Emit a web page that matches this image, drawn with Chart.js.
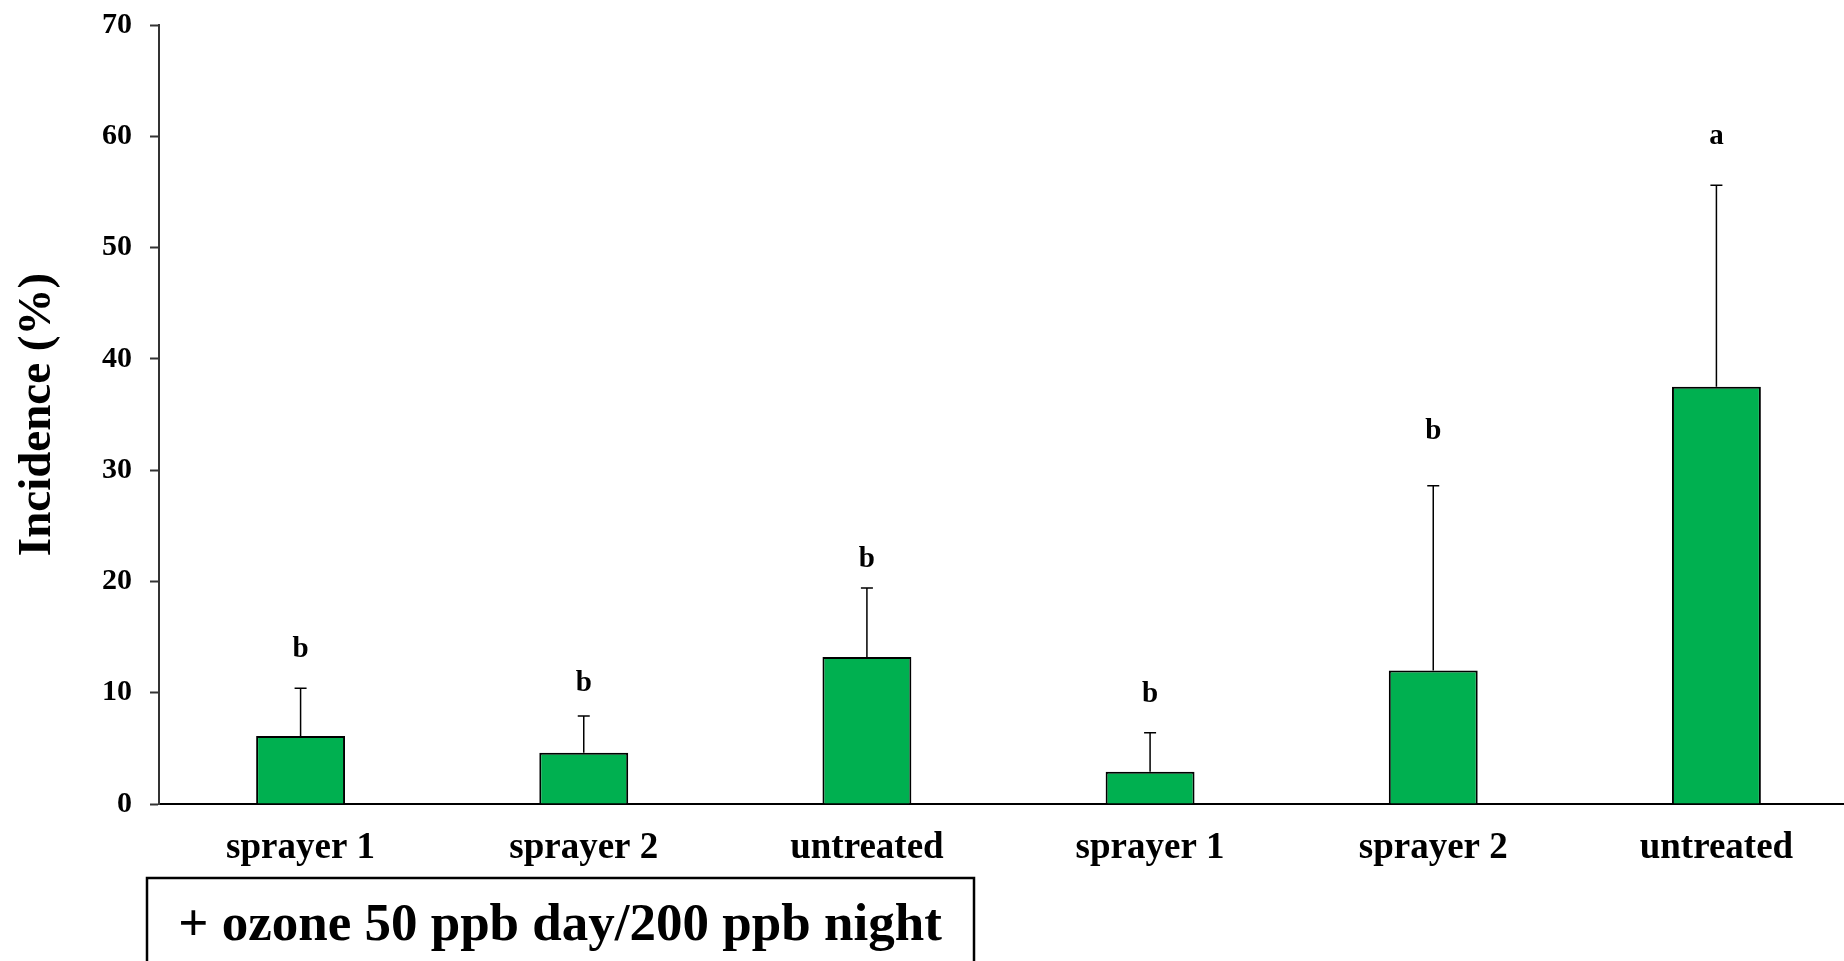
<!DOCTYPE html>
<html>
<head>
<meta charset="utf-8">
<title>Incidence (%)</title>
<script src="https://cdn.jsdelivr.net/npm/chart.js@4.4.1/dist/chart.umd.min.js"></script>
<style>
  html, body { margin: 0; padding: 0; background: #fff; overflow: hidden; }
  #wrap { position: relative; width: 1860px; height: 961px; }
</style>
</head>
<body>
<div id="wrap"><canvas id="chart"></canvas></div>
<script>
// Données
const categories = ['sprayer 1', 'sprayer 2', 'untreated', 'sprayer 1', 'sprayer 2', 'untreated'];
const incidence = [6.1, 4.6, 13.2, 2.9, 12.0, 37.5];
const errorUp = [4.3, 3.3, 6.2, 3.5, 16.6, 18.1];
const letters = ['b', 'b', 'b', 'b', 'b', 'a'];
const letterAt = [13.9, 10.8, 22.0, 9.8, 33.5, 60.0];
const yTicks = [0, 10, 20, 30, 40, 50, 60, 70];
const groupLabel = '+ ozone 50 ppb day/200 ppb night';

const FONT = '"Liberation Serif", "Times New Roman", serif';

// Barres d'erreur + lettres de signification
const errorBars = {
  id: 'errorBars',
  afterDatasetsDraw(chart) {
    const { ctx, scales: { x, y } } = chart;
    ctx.save();
    ctx.strokeStyle = '#000';
    ctx.lineWidth = 1.5;
    incidence.forEach((v, i) => {
      const px = x.getPixelForValue(i);
      const y0 = y.getPixelForValue(v);
      const y1 = y.getPixelForValue(v + errorUp[i]);
      ctx.beginPath();
      ctx.moveTo(px, y0);
      ctx.lineTo(px, y1);
      ctx.moveTo(px - 6, y1);
      ctx.lineTo(px + 6, y1);
      ctx.stroke();
    });
    ctx.fillStyle = '#000';
    ctx.font = 'bold 29px ' + FONT;
    ctx.textAlign = 'center';
    ctx.textBaseline = 'middle';
    letters.forEach((l, i) => {
      ctx.fillText(l, x.getPixelForValue(i), y.getPixelForValue(letterAt[i]));
    });
    ctx.restore();
  }
};

// Encadré du traitement sous l'axe
const groupBox = {
  id: 'groupBox',
  afterDraw(chart) {
    const { ctx } = chart;
    ctx.save();
    ctx.strokeStyle = '#000';
    ctx.lineWidth = 2.5;
    ctx.strokeRect(147, 878, 827, 120);
    ctx.fillStyle = '#000';
    ctx.font = 'bold 53px ' + FONT;
    ctx.textAlign = 'center';
    ctx.textBaseline = 'middle';
    ctx.fillText(groupLabel, 560, 926);
    ctx.restore();
  }
};

new Chart(document.getElementById('chart'), {
  type: 'bar',
  data: {
    labels: categories,
    datasets: [{
      label: 'Incidence (%)',
      data: incidence,
      backgroundColor: '#00B050',
      borderColor: '#000',
      borderWidth: 2,
      categoryPercentage: 1,
      barPercentage: 0.314
    }]
  },
  options: {
    responsive: true,
    maintainAspectRatio: false,
    animation: false,
    layout: { padding: { top: 25, right: 2, left: 0, bottom: 0 } },
    plugins: {
      legend: { display: false },
      tooltip: { enabled: false }
    },
    scales: {
      x: {
        grid: { display: true, drawOnChartArea: false, drawTicks: false },
        border: { display: true, color: '#000', width: 2 },
        ticks: {
          color: '#000',
          padding: 22,
          maxRotation: 0,
          font: { family: FONT, size: 37, weight: 'bold' }
        },
        afterFit(scale) { scale.height = 157; }
      },
      y: {
        min: 0,
        max: 70,
        afterBuildTicks(scale) { scale.ticks = yTicks.map(v => ({ value: v })); },
        grid: { display: true, drawOnChartArea: false, drawTicks: true, tickLength: 9, tickColor: '#333', tickWidth: 2 },
        border: { display: true, color: '#333', width: 2 },
        ticks: {
          color: '#000',
          padding: 18,
          font: { family: FONT, size: 30, weight: 'bold' }
        },
        title: {
          display: true,
          text: 'Incidence (%)',
          color: '#000',
          padding: { top: 10, bottom: 0 },
          font: { family: FONT, size: 47, weight: 'bold' }
        },
        afterFit(scale) {
          scale.width = 159;
          scale.paddingTop = 0;
          scale.paddingBottom = 0;
        }
      }
    }
  },
  plugins: [errorBars, groupBox]
});
</script>
</body>
</html>
